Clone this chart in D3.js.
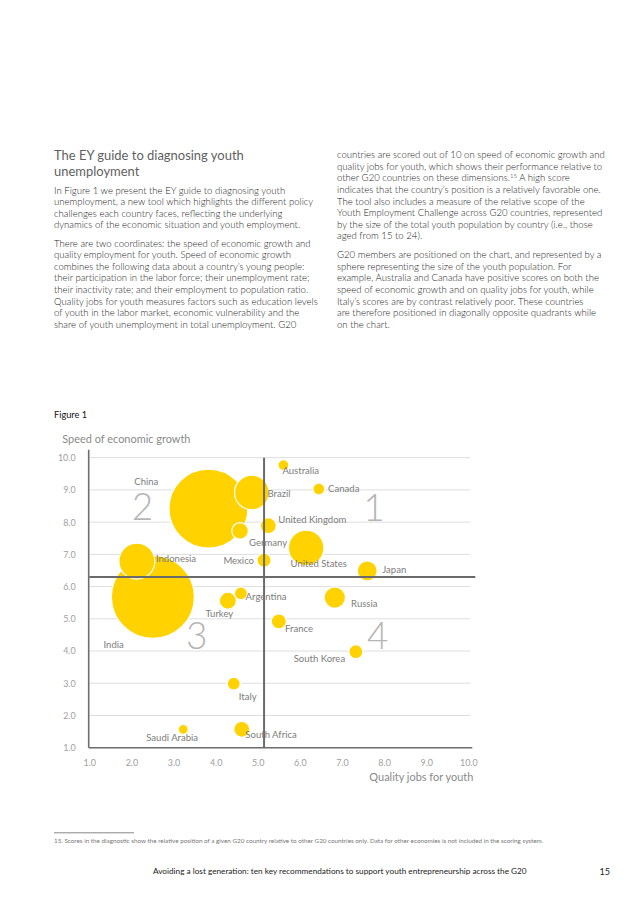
<!DOCTYPE html>
<html>
<head>
<meta charset="utf-8">
<script src="https://cdn.jsdelivr.net/npm/d3@7/dist/d3.min.js"></script>
<style>
  html, body { margin: 0; padding: 0; background: #fff; }
  svg { display: block; }
</style>
</head>
<body>
<svg id="page" width="638" height="903"></svg>
<script>
// ---------------- DATA ----------------
const countries  = ["India","China","United States","Indonesia","Brazil","Russia","Japan","Turkey","Germany","United Kingdom","South Africa","France","Mexico","South Korea","Argentina","Italy","Canada","Australia","Saudi Arabia"];
const qualityJobs = [2.51, 3.83, 6.15, 2.13, 4.86, 6.83, 7.60, 4.29, 4.58, 5.25, 4.62, 5.50, 5.15, 7.33, 4.60, 4.43, 6.45, 5.61, 3.23];
const econGrowth  = [5.68, 8.42, 7.20, 6.79, 8.92, 5.66, 6.49, 5.56, 7.73, 7.89, 1.57, 4.92, 6.82, 3.98, 5.79, 2.99, 9.03, 9.77, 1.57];
const youthPop    = [235, 213, 43, 44, 41, 15.6, 13.6, 9.9, 9.4, 8.7, 8.7, 7.7, 6.7, 6.7, 5.8, 5.8, 4.9, 4.1, 3.4];
const xTickValues = [1,2,3,4,5,6,7,8,9,10];
const yTickValues = [1,2,3,4,5,6,7,8,9,10];
const xDivider = 5.15;
const yDivider = 6.3;
const quadrantLabels = ["1","2","3","4"];
const quadrantX = [7.76, 2.26, 3.55, 7.85];
const quadrantY = [8.45, 8.47, 4.48, 4.48];

// label placement (pixel offsets from bubble centre, layout only)
const labelPlacement = {
  "China":[-74.2,-26.5,"start"], "India":[-49.4,47.5,"start"], "Indonesia":[19,-2.7,"start"],
  "Brazil":[15.6,0.8,"start"], "Australia":[-1,6,"start"], "Canada":[9.3,-0.7,"start"],
  "United Kingdom":[10,-6.4,"start"], "Germany":[9,11.7,"start"], "Mexico":[-10,0.7,"end"],
  "United States":[-15.6,15.3,"start"], "Japan":[15,-0.7,"start"], "Argentina":[4.7,3.4,"start"],
  "Turkey":[-22.4,12.6,"start"], "Russia":[16.3,6.3,"start"], "France":[6.3,7.4,"start"],
  "South Korea":[-10.7,7,"end"], "Italy":[5,13,"start"], "Saudi Arabia":[-37,8,"start"],
  "South Africa":[3.6,5,"start"]
};

const heading = ["The EY guide to diagnosing youth", "unemployment"];
const leftPara1 = [
"In Figure 1 we present the EY guide to diagnosing youth",
"unemployment, a new tool which highlights the different policy",
"challenges each country faces, reflecting the underlying",
"dynamics of the economic situation and youth employment."];
const leftPara2 = [
"There are two coordinates: the speed of economic growth and",
"quality employment for youth. Speed of economic growth",
"combines the following data about a country’s young people:",
"their participation in the labor force; their unemployment rate;",
"their inactivity rate; and their employment to population ratio.",
"Quality jobs for youth measures factors such as education levels",
"of youth in the labor market, economic vulnerability and the",
"share of youth unemployment in total unemployment. G20"];
const rightPara1 = [
"countries are scored out of 10 on speed of economic growth and",
"quality jobs for youth, which shows their performance relative to",
"other G20 countries on these dimensions.^15^ A high score",
"indicates that the country’s position is a relatively favorable one.",
"The tool also includes a measure of the relative scope of the",
"Youth Employment Challenge across G20 countries, represented",
"by the size of the total youth population by country (i.e., those",
"aged from 15 to 24)."];
const rightPara2 = [
"G20 members are positioned on the chart, and represented by a",
"sphere representing the size of the youth population. For",
"example, Australia and Canada have positive scores on both the",
"speed of economic growth and on quality jobs for youth, while",
"Italy’s scores are by contrast relatively poor. These countries",
"are therefore positioned in diagonally opposite quadrants while",
"on the chart."];
const figureTitle = "Figure 1";
const yTitle = "Speed of economic growth";
const xTitle = "Quality jobs for youth";
const footnote = "15. Scores in the diagnostic show the relative position of a given G20 country relative to other G20 countries only. Data for other economies is not included in the scoring system.";
const footer = "Avoiding a lost generation: ten key recommendations to support youth entrepreneurship across the G20";
const pageNumber = "15";

// ---------------- DRAW ----------------
const FONT = "Lato, 'Open Sans', 'DejaVu Sans', sans-serif";
const svg = d3.select("#page");

function fitSize(str, target, weight) {
  const t = svg.append("text").attr("font-family", FONT).attr("font-size", 20)
    .attr("font-weight", weight || 400).text(str);
  const w = t.node().getComputedTextLength();
  t.remove();
  return 20 * target / w;
}

// text blocks
const BODY_W = 300;
const bodySize = fitSize(leftPara2[0], 257, BODY_W);
const headSize = fitSize(heading[0], 190);

function block(lines, x, y0, step, size, color, weight) {
  lines.forEach((line, i) => {
    const t = svg.append("text").attr("x", x).attr("y", y0 + i * step)
      .attr("font-family", FONT).attr("font-size", size).attr("fill", color)
      .attr("font-weight", weight || 400);
    const parts = line.split("^");
    let shift = 0;
    parts.forEach((p, k) => {
      const sp = t.append("tspan").text(p);
      if (k % 2 === 1) {
        sp.attr("font-size", size * 0.62).attr("dy", -size * 0.38);
        shift = size * 0.38;
      } else if (shift) {
        sp.attr("dy", shift);
        shift = 0;
      }
    });
  });
}
block(heading, 54, 160, 16.2, headSize, "#5f5f5f");
block(leftPara1, 54, 193.5, 11.55, bodySize, "#262626", BODY_W);
block(leftPara2, 54, 246.8, 11.55, bodySize, "#262626", BODY_W);
block(rightPara1, 337, 158.3, 11.55, bodySize, "#262626", BODY_W);
block(rightPara2, 337, 258.3, 11.55, bodySize, "#262626", BODY_W);

svg.append("text").attr("x", 54).attr("y", 417.5).attr("font-family", FONT)
  .attr("font-size", fitSize(figureTitle, 33)).attr("fill", "#111").text(figureTitle);

// chart
const x = d3.scaleLinear().domain([1, 10]).range([89.3, 468.3]);
const y = d3.scaleLinear().domain([1, 10]).range([747.7, 457.7]);
const r = d3.scaleSqrt().domain([0, d3.max(youthPop)]).range([0, 41.5]);

const g = svg.append("g");

// gridlines
g.append("g").selectAll("line").data(yTickValues).join("line")
  .attr("x1", x(1)).attr("x2", x(10) + 2)
  .attr("y1", d => y(d)).attr("y2", d => y(d))
  .attr("stroke", "#dedede").attr("stroke-width", 1);

// axes
const tickSize = fitSize("10.0", 17.7);
const yAxis = g.append("g").attr("transform", `translate(${x(1)},0)`)
  .call(d3.axisLeft(y).tickValues(yTickValues).tickSize(0).tickPadding(13.7).tickFormat(d3.format(".1f")));
const xAxis = g.append("g").attr("transform", `translate(0,${y(1)})`)
  .call(d3.axisBottom(x).tickValues(xTickValues).tickSize(0).tickPadding(12).tickFormat(d3.format(".1f")));
[yAxis, xAxis].forEach(a => {
  a.select(".domain").remove();
  a.selectAll("text").attr("font-family", FONT).attr("font-size", tickSize).attr("fill", "#a0a0a0");
});

// axis lines
g.append("line").attr("x1", x(1) - 0.6).attr("x2", x(1) - 0.6).attr("y1", y(10) - 8).attr("y2", y(1))
  .attr("stroke", "#6e6e6e").attr("stroke-width", 1.6);
g.append("line").attr("x1", x(1) - 0.6).attr("x2", x(10) + 4).attr("y1", y(1)).attr("y2", y(1))
  .attr("stroke", "#6e6e6e").attr("stroke-width", 1.6);

// quadrant numbers
const qSize = 37;
g.append("g").selectAll("text").data(quadrantLabels).join("text")
  .attr("x", (d, i) => x(quadrantX[i])).attr("y", (d, i) => y(quadrantY[i]))
  .attr("text-anchor", "middle").attr("dy", "0.36em")
  .attr("font-family", "Lato, 'DejaVu Sans', sans-serif").attr("font-weight", 300)
  .attr("font-size", qSize).attr("fill", "#b5b5b5").text(d => d);

// bubbles
const data = countries.map((c, i) => ({ name: c, qx: qualityJobs[i], gy: econGrowth[i], pop: youthPop[i] }))
  .sort((a, b) => b.pop - a.pop);
g.append("g").selectAll("circle").data(data).join("circle")
  .attr("cx", d => x(d.qx)).attr("cy", d => y(d.gy)).attr("r", d => r(d.pop))
  .attr("fill", "#ffd200").attr("stroke", "#ffffff").attr("stroke-width", 1.2);

// divider lines
g.append("line").attr("x1", x(xDivider)).attr("x2", x(xDivider)).attr("y1", y(10)).attr("y2", y(1))
  .attr("stroke", "#6a6a6a").attr("stroke-width", 2);
g.append("line").attr("x1", x(1)).attr("x2", x(10) + 7).attr("y1", y(yDivider)).attr("y2", y(yDivider))
  .attr("stroke", "#6a6a6a").attr("stroke-width", 2);

// country labels
const labelSize = fitSize("United Kingdom", 68.3);
g.append("g").selectAll("text").data(data).join("text")
  .attr("x", d => x(d.qx) + labelPlacement[d.name][0])
  .attr("y", d => y(d.gy) + labelPlacement[d.name][1])
  .attr("dy", "0.35em").attr("text-anchor", d => labelPlacement[d.name][2])
  .attr("font-family", FONT).attr("font-size", labelSize).attr("fill", "#7d7d7d")
  .text(d => d.name);

// axis titles
svg.append("text").attr("x", 62.3).attr("y", 443.3).attr("font-family", FONT)
  .attr("font-size", fitSize(yTitle, 128.4)).attr("fill", "#8a8a8a").text(yTitle);
svg.append("text").attr("x", 473.3).attr("y", 781).attr("text-anchor", "end").attr("font-family", FONT)
  .attr("font-size", fitSize(xTitle, 104)).attr("fill", "#8a8a8a").text(xTitle);

// footnote + footer
svg.append("line").attr("x1", 54).attr("x2", 134).attr("y1", 832.8).attr("y2", 832.8)
  .attr("stroke", "#555").attr("stroke-width", 0.7);
svg.append("text").attr("x", 54).attr("y", 843.3).attr("font-family", FONT)
  .attr("font-size", fitSize(footnote, 491)).attr("fill", "#777").text(footnote);
svg.append("text").attr("x", 153).attr("y", 874.3).attr("font-family", FONT)
  .attr("font-size", fitSize(footer, 374)).attr("fill", "#222").text(footer);
svg.append("text").attr("x", 610).attr("y", 874.8).attr("text-anchor", "end").attr("font-family", FONT)
  .attr("font-size", fitSize(pageNumber, 10.5)).attr("fill", "#222").text(pageNumber);
</script>
</body>
</html>
